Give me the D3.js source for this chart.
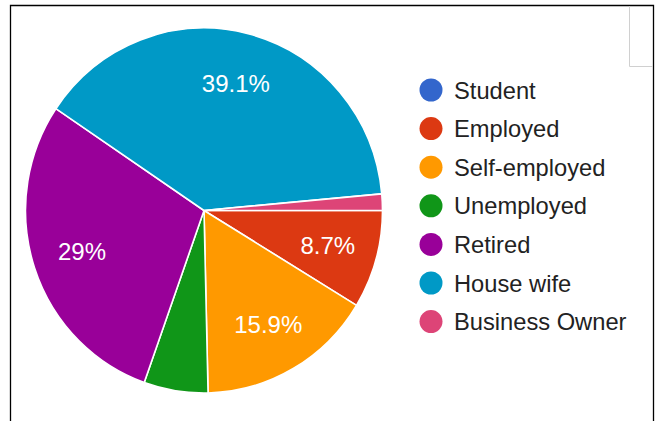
<!DOCTYPE html>
<html>
<head>
<meta charset="utf-8">
<script src="https://cdn.jsdelivr.net/npm/d3@7"></script>
<style>
  html, body { margin: 0; padding: 0; background: #fff; }
  svg { display: block; }
</style>
</head>
<body>
<script>
// Occupation of respondents
const categories = ["Student", "Employed", "Self-employed", "Unemployed", "Retired", "House wife", "Business Owner"];
const counts = [0, 6, 11, 4, 20, 27, 1];
const colors = ["#3366cc", "#dc3912", "#ff9900", "#109618", "#990099", "#0099c6", "#dd4477"];

const W = 657, H = 421;
const FONT = "'Liberation Sans', Arial, sans-serif";
const svg = d3.select("body").append("svg").attr("width", W).attr("height", H);

// outer frame
svg.append("path")
  .attr("d", `M10.5,${H} V5.5 H653.5 V${H}`)
  .attr("fill", "none").attr("stroke", "#000").attr("stroke-width", 1.3);

// small grey box in the top-right corner
svg.append("path")
  .attr("d", "M629.5,6 V66.5 H653")
  .attr("fill", "none").attr("stroke", "#d0d0d0").attr("stroke-width", 1);

const cx = 204, cy = 210.5, R = 178.5, yScale = 182.5 / 178.5;
const total = d3.sum(counts);
const data = categories.map((c, i) => ({ name: c, value: counts[i], color: colors[i] }));

const pie = d3.pie().value(d => d.value).sort(null)
  .startAngle(Math.PI / 2).endAngle(Math.PI / 2 + 2 * Math.PI);
const arcs = pie(data);

const arc = d3.arc().innerRadius(0).outerRadius(R);
const labelArc = d3.arc().innerRadius(R * 0.72).outerRadius(R * 0.72);

const g = svg.append("g").attr("transform", `translate(${cx},${cy})`);
g.append("g").attr("transform", `scale(1,${yScale})`)
  .selectAll("path").data(arcs.filter(a => a.data.value > 0)).join("path")
  .attr("d", arc)
  .attr("fill", d => d.data.color)
  .attr("stroke", "#fff").attr("stroke-width", 1.6).attr("stroke-linejoin", "round");

const fmt = v => {
  const p = Math.round(v / total * 1000) / 10;
  return (p % 1 === 0 ? p.toFixed(0) : p.toFixed(1)) + "%";
};

g.selectAll("text.lbl").data(arcs.filter(a => a.data.value / total > 0.08)).join("text")
  .attr("class", "lbl")
  .attr("x", d => labelArc.centroid(d)[0])
  .attr("y", d => labelArc.centroid(d)[1] * yScale)
  .attr("dy", "0.35em")
  .attr("text-anchor", "middle")
  .attr("fill", "#fff")
  .attr("font-family", FONT)
  .attr("font-size", 24)
  .text(d => fmt(d.data.value));

// legend
const lg = svg.append("g").attr("transform", "translate(431,90)");
const row = lg.selectAll("g").data(data).join("g")
  .attr("transform", (d, i) => `translate(0,${i * 38.6})`);
row.append("circle").attr("r", 11.5).attr("fill", d => d.color);
row.append("text")
  .attr("x", 23).attr("dy", "0.36em")
  .attr("fill", "#222")
  .attr("font-family", FONT)
  .attr("font-size", 23.7)
  .text(d => d.name);
</script>
</body>
</html>
